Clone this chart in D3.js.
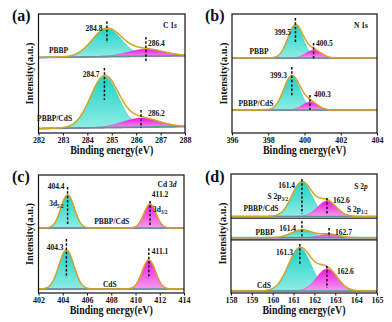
<!DOCTYPE html>
<html><head><meta charset="utf-8">
<script src="https://cdn.jsdelivr.net/npm/d3@7"></script>
<style>body{margin:0;background:#fff}svg{display:block}</style>
</head><body>
<script>
// ---------- DATA ----------
// (a) C 1s
const cTicks=[282,283,284,285,286,287,288];
const cSamples=["PBBP","PBBP/CdS"];
const cCenters=[[284.8,286.4],[284.7,286.2]];
const cHeights=[[23.5,5.9],[42.9,7.6]];
const cSigmas=[[0.6,0.72],[0.57,0.72]];
const cBaselines=[[63.5,65],[3.8,5.5]];
// (b) N 1s
const nTicks=[396,398,400,402,404];
const nSamples=["PBBP","PBBP/CdS"];
const nCenters=[[399.5,400.5],[399.3,400.3]];
const nHeights=[[27.7,6.7],[28.6,6.7]];
const nSigmas=[[0.42,0.42],[0.45,0.42]];
const nBaselines=[[63,63],[19.3,19.3]];
// (c) Cd 3d
const cdTicks=[402,404,406,408,410,412,414];
const cdSamples=["PBBP/CdS","CdS"];
const cdCenters=[[404.4,411.2],[404.3,411.1]];
const cdHeights=[[28,20.3],[33,24.6]];
const cdSigmas=[[0.55,0.5],[0.62,0.55]];
const cdBaselines=[[55.1,55.1],[3.4,3.4]];
// (d) S 2p
const sTicks=[158,159,160,161,162,163,164,165];
const sSamples=["PBBP/CdS","PBBP","CdS"];
const sCenters=[[161.4,162.6],[161.4,162.7],[161.3,162.6]];
const sHeights=[[29,13],[6.5,3],[36,18.5]];
const sSigmas=[[0.48,0.45],[0.5,0.45],[0.55,0.5]];
const sBaselines=[[64.3,64.3],[46.5,46.5],[1.7,1.7]];
const sDividers=[62.8,44.7];

// annotation positions (energy, intensity)
const cLabels=[[["284.8"],284.62,86,"end"],[["286.4"],286.48,73,"start"],[["PBBP"],282.82,67,"middle"],
  [["284.7"],284.5,47,"end"],[["286.2"],286.48,14,"start"],[["PBBP/CdS"],282.66,10,"middle"],
  [["C 1",{t:"s",i:1}],287.38,88,"middle"]];
const cDash=[[284.8,94,75.6],[286.4,80.7,59.7],[284.7,54.6,27.7],[286.2,19.3,4.2]];
const nLabels=[[["399.5"],399.26,82,"end"],[["400.5"],400.63,73,"start"],[["PBBP"],397.49,66,"middle"],
  [["399.3"],399.03,46,"end"],[["400.3"],400.52,30,"start"],[["PBBP/CdS"],397.32,22.7,"middle"],
  [["N 1s"],403.12,88,"middle"]];
const nDash=[[399.5,96.6,76.5],[400.5,75.6,61.3],[399.3,55.5,31],[400.3,32,19.3]];
const cdLabels=[[["404.4"],404.15,88,"end"],[["3d",{t:"5/2",s:1}],404.07,73.7,"end"],
  [["411.2"],411.35,81,"start"],[["3d",{t:"3/2",s:1}],411.44,68.6,"start"],
  [["PBBP/CdS"],408.04,58.5,"middle"],[["404.3"],404.07,36.4,"end"],[["411.1"],411.35,33,"start"],
  [["CdS"],407.88,5,"middle"],[["Cd 3",{t:"d",i:1}],412.6,90,"middle"]];
const cdDash=[[404.4,89.8,58.5],[411.2,78,56.8],[404.3,45.8,12.7],[411.1,38,12.7]];
const sLabels=[[["161.4"],161.07,88,"end"],[["S 2p",{t:"3/2",s:1}],160.73,79,"end"],
  [["PBBP/CdS"],159.44,69,"middle"],[["162.6"],162.89,75.6,"start"],[["S 2p",{t:"1/2",s:1}],163.56,68,"start"],
  [["PBBP"],159.63,48.7,"middle"],[["161.4"],161.12,52,"end"],[["162.7"],162.99,48.7,"start"],
  [["161.3"],160.97,32,"end"],[["162.6"],163.08,16,"start"],[["CdS"],159.58,4.2,"middle"],
  [["S 2",{t:"p",i:1}],164.23,87.4,"middle"]];
const sDash=[[161.4,95.8,66.4],[162.6,79.8,66.4],[161.4,60.5,47],[162.7,54.6,47],[161.3,41.2,24.4],[162.6,22.7,4.2]];

// ---------- LAYOUT ----------
const FONT='"Liberation Serif","Times New Roman",serif';
const svg=d3.select("body").append("svg").attr("width",392).attr("height",322);
const defs=svg.append("defs");
function grad(id,c1,c2){const g=defs.append("linearGradient").attr("id",id).attr("x1",0).attr("y1",0).attr("x2",0).attr("y2",1);
  g.append("stop").attr("offset","0%").attr("stop-color",c1);g.append("stop").attr("offset","100%").attr("stop-color",c2);}
grad("gTeal","#1fd3c6","#8fece4");
grad("gMag","#ee16e0","#f49cee");

const panels=[
 {id:"a",tag:"(a)",box:[38.5,185,14,133],dom:[282,288],ticks:cTicks,samples:cSamples,centers:cCenters,heights:cHeights,sigmas:cSigmas,bases:cBaselines,labels:cLabels,dash:cDash,lab:[12,21]},
 {id:"b",tag:"(b)",box:[232,377,14,133],dom:[396,404],ticks:nTicks,samples:nSamples,centers:nCenters,heights:nHeights,sigmas:nSigmas,bases:nBaselines,labels:nLabels,dash:nDash,lab:[205,21]},
 {id:"c",tag:"(c)",box:[38.5,184,175,293],dom:[402,414],ticks:cdTicks,samples:cdSamples,centers:cdCenters,heights:cdHeights,sigmas:cdSigmas,bases:cdBaselines,labels:cdLabels,dash:cdDash,lab:[12,182]},
 {id:"d",tag:"(d)",box:[231,377,174,293],dom:[158,165],ticks:sTicks,samples:sSamples,centers:sCenters,heights:sHeights,sigmas:sSigmas,bases:sBaselines,labels:sLabels,dash:sDash,lab:[205,182],dividers:sDividers}
];

function addText(g,segs,x,y,anchor,size){
  const t=g.append("text").attr("x",x).attr("y",y).attr("text-anchor",anchor)
    .attr("font-family",FONT).attr("font-weight","bold").attr("font-size",size).attr("fill","#111");
  let shifted=false;
  segs.forEach(sg=>{
    if(typeof sg==="string"){const ts=t.append("tspan").text(sg);if(shifted){ts.attr("dy",-2);shifted=false;}}
    else if(sg.s){t.append("tspan").text(sg.t).attr("font-size",size*0.68).attr("dy",2);shifted=true;}
    else if(sg.i){t.append("tspan").text(sg.t).attr("font-style","italic");}
  });
  return t;
}

panels.forEach(p=>{
  const [X0,X1,Y0,Y1]=p.box;
  const x=d3.scaleLinear().domain(p.dom).range([X0,X1]);
  const y=d3.scaleLinear().domain([0,100]).range([Y1,Y0]);
  const g=svg.append("g");
  defs.append("clipPath").attr("id","clip"+p.id).append("rect").attr("x",X0).attr("y",Y0).attr("width",X1-X0).attr("height",Y1-Y0);
  const plot=g.append("g").attr("clip-path","url(#clip"+p.id+")");
  const es=d3.range(p.dom[0],p.dom[1]+1e-9,(p.dom[1]-p.dom[0])/400);
  p.samples.forEach((s,i)=>{
    const bg=e=>p.bases[i][0]+(p.bases[i][1]-p.bases[i][0])*(e-p.dom[0])/(p.dom[1]-p.dom[0]);
    const gs=p.centers[i].map((c,k)=>e=>p.heights[i][k]*Math.exp(-((e-c)**2)/(2*p.sigmas[i][k]**2)));
    const fills=["url(#gTeal)","url(#gMag)"];
    gs.forEach((gf,k)=>{
      plot.append("path").datum(es).attr("fill",fills[k]).attr("stroke",k?"#d21ac8":"#22b8ab").attr("stroke-width",0.4)
        .attr("d",d3.area().x(e=>x(e)).y0(e=>y(bg(e))).y1(e=>y(bg(e)+gf(e)))(es));
    });
    plot.append("path").datum(es).attr("fill","none").attr("stroke","#5b9f8a").attr("stroke-width",1.6)
      .attr("d",d3.line().x(e=>x(e)).y(e=>y(bg(e)))(es));
    plot.append("path").datum(es).attr("fill","none").attr("stroke","#8a66c8").attr("stroke-width",0.5)
      .attr("d",d3.line().x(e=>x(e)).y(e=>y(bg(e))+0.6)(es));
    plot.append("path").datum(es).attr("fill","none").attr("stroke","#d4a227").attr("stroke-width",1.5)
      .attr("d",d3.line().x(e=>x(e)).y(e=>y(bg(e)+gs[0](e)+gs[1](e)))(es));
  });
  if(p.dividers){p.dividers.forEach(v=>{
    g.append("line").attr("x1",X0).attr("x2",X1).attr("y1",y(v)).attr("y2",y(v)).attr("stroke","#111").attr("stroke-width",1.2);
  });}
  p.dash.forEach(d=>{
    g.append("line").attr("x1",x(d[0])).attr("x2",x(d[0])).attr("y1",y(d[1])).attr("y2",y(d[2]))
      .attr("stroke","#111").attr("stroke-width",1.5).attr("stroke-dasharray","2.5,1.8");
  });
  p.labels.forEach(l=>addText(g,l[0],x(l[1]),y(l[2]),l[3],7.5));
  // frame
  g.append("rect").attr("x",X0).attr("y",Y0).attr("width",X1-X0).attr("height",Y1-Y0).attr("fill","none").attr("stroke","#111").attr("stroke-width",1.2);
  // axis
  const ax=g.append("g").attr("transform",`translate(0,${Y1})`).call(d3.axisBottom(x).tickValues(p.ticks).tickSize(2.5).tickPadding(1.5).tickFormat(d3.format("d")));
  ax.select(".domain").remove();
  ax.selectAll("line").attr("stroke","#111").attr("stroke-width",1);
  ax.selectAll("text").attr("font-family",FONT).attr("font-weight","bold").attr("font-size",8).attr("fill","#111");
  // titles
  g.append("text").attr("x",(X0+X1)/2).attr("y",Y1+20.5).attr("text-anchor","middle").attr("font-family",FONT).attr("font-weight","bold")
    .attr("font-size",11.5).attr("textLength",83).attr("lengthAdjust","spacingAndGlyphs").attr("fill","#111").text("Binding energy(eV)");
  g.append("text").attr("transform",`translate(${X0-5.5},${(Y0+Y1)/2}) rotate(-90)`).attr("text-anchor","middle").attr("font-family",FONT).attr("font-weight","bold")
    .attr("font-size",11).attr("textLength",62).attr("lengthAdjust","spacingAndGlyphs").attr("fill","#111").text("Intensity(a.u.)");
  g.append("text").attr("x",p.lab[0]).attr("y",p.lab[1]).attr("font-family",FONT).attr("font-weight","bold").attr("font-size",16).attr("fill","#0d0d20").text(p.tag);
});
</script>
</body></html>
